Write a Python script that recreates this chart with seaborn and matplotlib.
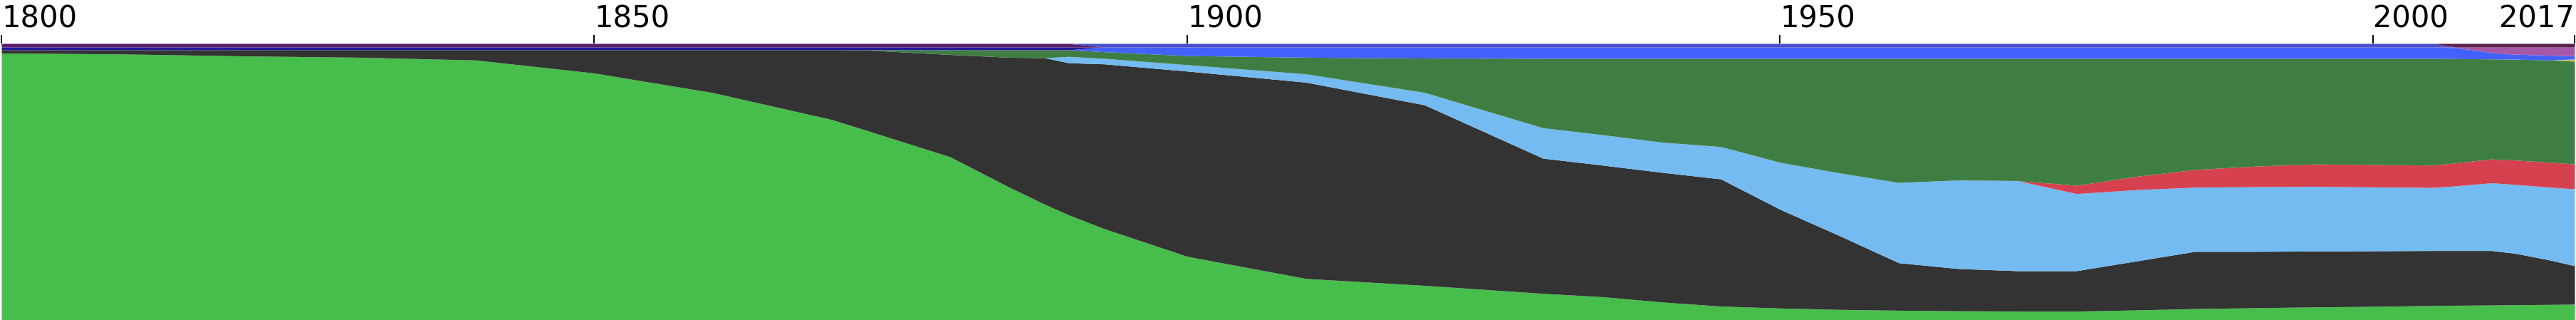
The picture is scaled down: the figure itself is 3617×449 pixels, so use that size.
import matplotlib
matplotlib.use("Agg")
import matplotlib.pyplot as plt
import pandas as pd
import seaborn as sns

# values are shares (%) of each layer
years = [1800, 1810, 1820, 1830, 1840, 1850, 1860, 1870, 1873, 1880, 1885, 1888,
         1890, 1893, 1900, 1910, 1920, 1930, 1935, 1940, 1945, 1950, 1955, 1960,
         1965, 1970, 1975, 1980, 1985, 1990, 1995, 2000, 2005, 2007, 2010, 2012,
         2015, 2017]

bright_green = [96.5, 96.2, 95.5, 95.0, 94.0, 89.3, 82.2, 72.5, 68.5, 59.0, 48.0, 41.8,
                38.0, 33.0, 23.0, 15.0, 12.5, 9.6, 8.4, 6.5, 5.0, 4.3, 3.8, 3.5,
                3.3, 3.2, 3.2, 3.6, 4.1, 4.4, 4.7, 4.9, 5.2, 5.3, 5.4, 5.5,
                5.6, 5.7]
dark_grey = [1.2, 1.5, 2.2, 2.7, 3.7, 8.4, 15.5, 25.2, 29.1, 37.0, 47.0, 53.0,
             55.0, 59.6, 67.0, 71.0, 65.3, 48.9, 47.6, 46.9, 46.0, 35.7, 26.7, 17.2,
             15.3, 14.6, 14.6, 17.7, 20.7, 20.4, 20.2, 20.1, 19.9, 19.8, 19.7, 18.6,
             16.0, 13.9]
light_blue = [0, 0, 0, 0, 0, 0, 0, 0, 0, 0, 0, 0,
              2.3, 2.0, 2.3, 3.0, 4.5, 11.0, 11.0, 10.9, 11.7, 17.0, 22.7, 29.0,
              32.0, 32.6, 27.9, 25.8, 23.2, 23.4, 23.4, 23.1, 22.8, 23.4, 24.5, 24.9,
              26.4, 27.8]
red = [0] * 26 + [3.0, 4.8, 6.4, 7.4, 8.1, 8.1, 8.1, 8.3, 8.6, 8.8, 9.0, 9.0]
dark_green = [0, 0, 0, 0, 0, 0, 0, 0, 0.1, 1.7, 2.7, 2.9,
              2.4, 2.4, 3.3, 6.0, 12.4, 25.1, 27.6, 30.3, 31.9, 37.6, 41.4, 44.9,
              44.0, 44.2, 45.9, 42.7, 40.2, 39.0, 38.2, 38.4, 38.6, 37.7, 36.2, 36.5,
              37.0, 37.2]
yellow = [0] * 37 + [0.8]
blue = [0] * 13 + [1.7, 3.1, 3.7, 4.0] + [4.1] * 16 + [4.0, 2.3, 1.8, 1.7, 1.2]
navy = [1.0] * 13 + [0] * 25
pink = [0] * 33 + [0.2, 2.0, 2.6, 3.0, 3.1]
purple = [1.3] * 13 + [0] * 25
indigo = [0] * 13 + [1.3] * 20 + [0] * 5
maroon = [0] * 33 + [1.3] * 5

tick_years = [1800, 1850, 1900, 1950, 2000, 2017]

layers = {
    "bright_green": (bright_green, "#47be4b"),
    "dark_grey": (dark_grey, "#333333"),
    "light_blue": (light_blue, "#73bbf1"),
    "red": (red, "#d5414f"),
    "dark_green": (dark_green, "#3f7e43"),
    "yellow": (yellow, "#c3c268"),
    "blue": (blue, "#4262fd"),
    "navy": (navy, "#24199a"),
    "pink": (pink, "#a657a6"),
    "purple": (purple, "#5a1f6c"),
    "indigo": (indigo, "#4a4fc9"),
    "maroon": (maroon, "#5b1e4f"),
}

df = pd.DataFrame({k: v[0] for k, v in layers.items()}, index=years)
palette = sns.color_palette([v[1] for v in layers.values()])

sns.set_theme(style="white")
plt.rcParams["font.family"] = ["DejaVu Sans"]

W, H = 3617, 449
fig = plt.figure(figsize=(W / 100, H / 100), dpi=100)
ax = fig.add_axes([2 / W, 0, 3613 / W, 388 / H])

ax.stackplot(df.index, df.T.values, colors=palette, linewidth=0)

ax.set_xlim(1800, 2017)
ax.set_ylim(0, 100)
ax.xaxis.tick_top()
ax.set_xticks(tick_years)
ax.set_xticklabels([str(y) for y in tick_years])
ax.tick_params(axis="x", length=8.6, width=1.4, pad=1, labelsize=30,
               colors="black", direction="out")
ax.set_yticks([])
for s in ax.spines.values():
    s.set_visible(False)

lbls = ax.get_xticklabels()
for l in lbls:
    l.set_ha("left")
lbls[-1].set_ha("right")

fig.savefig("out.png", dpi=100)
